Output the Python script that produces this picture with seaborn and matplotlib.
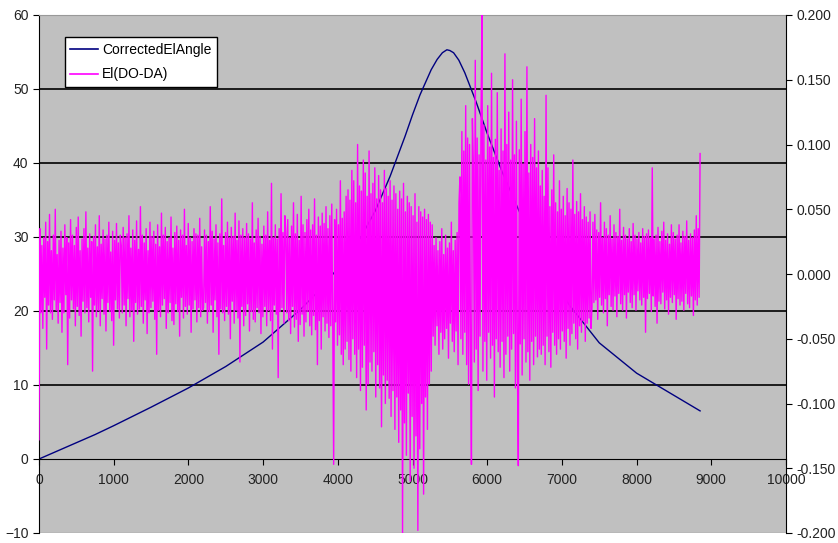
import numpy as np
import pandas as pd
import seaborn as sns
import matplotlib.pyplot as plt
from matplotlib.ticker import FormatStrFormatter

# corrected elevation angle (left axis)
elev_x = [0, 250, 500, 750, 1000, 1500, 2000, 2500, 3000, 3500, 3800, 4000, 4300,
          4500, 4700, 4900, 5000, 5100, 5250, 5330, 5400, 5460, 5500, 5550, 5620,
          5700, 5850, 6000, 6200, 6500, 6800, 7100, 7500, 8000, 8500, 8850]
elev_y = [0, 1.1, 2.2, 3.3, 4.5, 7.0, 9.6, 12.5, 15.8, 20.2, 23.3, 25.8, 29.8,
          33.5, 38.2, 43.6, 46.5, 49.2, 52.6, 54.0, 54.9, 55.3, 55.2, 54.9, 53.9,
          52.2, 48.3, 44.0, 38.8, 31.8, 26.0, 20.8, 15.7, 11.6, 8.6, 6.5]

# El(DO-DA) in thousandths (right axis) in stretches
noise_a = [-128, 35, -30, 22, -42, 28, -18, 40, -58, 25,
           -24, 46, -30, 18, -35, 30, -20, 50, -28, 15,
           -38, 26, -22, 33, -45, 20, -30, 38, -16, 28,
           -70, 24, -34, 42, -20, 30, -27, 22, -40, 36,
           -25, 44, -32, 18, -48, 27, -21, 35, -30, 48,
           -26, 20, -37, 31, -18, 25, -75, 29, -24, 38,
           -33, 21, -28, 45, -40, 23, -19, 34, -31, 27,
           -44, 30, -22, 40, -29, 17, -36, 33, -55, 26,
           -20, 39, -27, 24, -34, 30]
noise_b = [22, -30, 36, -24, 28, -40, 31, -19, 45, -33,
           20, -28, 34, -52, 26, -22, 41, -31, 19, -27,
           52, -25, 30, -38, 24, -20, 35, -46, 18, -30,
           40, -26, 29, -21, 33, -35, 23, -62, 38, -28,
           21, -33, 47, -24, 30, -19, 36, -42, 25, -30,
           28, -22, 44, -36, 20, -39, 32, -23, 37, -29,
           26, -48, 34, -18, 30, -34, 50, -25, 22, -31,
           39, -24, 28, -45, 25, -27, 35, -20, 31, -37,
           30, -26, 43, -33, 21, -28]
noise_c = [-26, 34, -22, 30, -38, 25, -29, 52, -24, 33,
           -45, 27, -20, 38, -33, 24, -62, 31, -27, 58,
           -30, 22, -36, 32, -25, 40, -31, 28, -50, 36,
           -21, 29, -38, 47, -28, 26, -34, 41, -68, 30,
           -25, 35, -40, 28, -32, 39, -23, 31, -44, 27,
           -29, 55, -35, 24, -37, 34, -26, 43, -30, 29,
           -46, 23, -33, 37, -25, 30, -40, 48, -28, 26,
           -36, 70, -58, 28, -24, 38, -31, 27, -80, 35,
           -29, 62, -26, 32, -38, 45]
noise_d = [33, -30, 42, -36, 28, -46, 37, -25, 55, -41,
           31, -35, 46, -52, 26, -39, 60, -31, 38, -48,
           32, -37, 42, -29, 50, -40, 34, -47, 38, -32,
           58, -43, 30, -70, 44, -36, 37, -58, 47, -33,
           39, -44, 52, -38, 35, -49, 45, -40, 54, -35,
           -147, 42, -37, 50, -55, 38, -47, 72, -62, 43,
           -70, 48, -58, 60, -52, 65, -66, 57, -75, 80]
noise_e = [-50, 72, -62, 55, -80, 100, -58, 68, -90, 64,
           -72, 88, -55, 78, -105, 60, -85, 95, -68, 62,
           -75, 70, -60, 82, -95, 58, -70, 76, -88, 65,
           -118, 55, -78, 80, -100, 66, -82, 60, -96, 72,
           -110, 57, -90, 68, -120, 62, -95, 50, -130, 64,
           -105, 58, -200, 70, -115, 48, -140, 60, -92, 55,
           -160, 52, -110, 45, -150, 62, -125, 40, -198, 52,
           -135, 48, -100, 44, -170, 50, -95, 42, -120, 46,
           -85, 40, -75, 38]
noise_f = [-48, 22, -55, 28, -40, 18, -62, 25, -45, 35,
           -58, 15, -50, 30, -42, 20, -65, 24, -38, 40,
           -52, 18, -60, 26, -44, 32, -70, 55]
noise_g = [75, -50, 110, -62, 95, -45, 130, -70, 105, -85,
           100, -55, -147, 120, 85, -68, 165, -58, 105, -90,
           92, -48, 120, 200, -75, 115, -52, 88, -82, 130,
           -45, 98, -65, 155, -55, 90, -95, 104, -50, 140,
           -60, 80, -72, 112, -52, 95, -80, 170, -62, 100,
           -48, 125, -75, 88, -58, 150, -46, 92, -88, 118,
           -66, -148, 96, -54, 135, -78, 85, -50, 110, -68,
           160, -60, 78, -82, 100, -52, 90, -70, 120, -48,
           82, -64, 95, -58]
noise_h = [68, -62, 80, -55, 60, -70, 138, -48, 82, -60,
           52, -72, 65, -45, 92, -55, 55, -62, 48, -50,
           72, -58, 50, -44, 60, -52, 45, -65, 66, -42,
           55, -55, 50, -46, 88, -38, 46, -50, 56, -58,
           48, -40, 62, -45, 42, -36, 52, -52, 44, -38,
           40, -34, 48, -42]
noise_i = [-25, 40, -22, 46, -20, 34, -35, 32, -18, 55,
           -24, 28, -30, 40, -19, 35, -40, 30, -16, 45,
           -25, 27, -28, 38, -17, 32, -33, 29, -15, 50,
           -23, 26, -28, 36, -16, 30, -34, 27, -14, 35,
           -22, 25, -26, 39, -16, 30, -28, 27, -13, 32,
           -20, 24, -24, 35, -18, 29, -45, 31, -19, 34,
           -15, 28, -29, 82, -17, 27, -25, 30, -38, 36,
           -21, 25, -23, 33, -14, 40, -27, 26, -20, 31,
           -31, 23, -18, 38, -22, 32, -16, 27, -35, 30,
           -19, 38, -24, 24, -21, 33, -28, 29, -15, 41,
           -23, 26, -26, 31, -17, 28, -32, 34, -20, 45,
           -24, 35, -18, 93]

right_ticks = [-0.2, -0.15, -0.1, -0.05, 0.0, 0.05, 0.1, 0.15, 0.2]

noise = noise_a + noise_b + noise_c + noise_d + noise_e + noise_f + noise_g + noise_h + noise_i
noise_df = pd.DataFrame({'x': np.linspace(0, 8850, len(noise)),
                         'y': np.array(noise) / 1000.0})
elev_df = pd.DataFrame({'x': elev_x, 'y': elev_y})

plt.rcParams['font.family'] = ['Liberation Sans', 'DejaVu Sans']
plt.rcParams['font.size'] = 10

fig = plt.figure(figsize=(8.38, 5.43), dpi=100)
ax = fig.add_axes([39 / 838, 10 / 543, 747 / 838, 518 / 543])
ax.set_facecolor('#C0C0C0')

sns.lineplot(x='x', y='y', data=elev_df, ax=ax, color='#000080', linewidth=1.0,
             sort=False, legend=False)
ax.set_xlim(0, 10000)
ax.set_ylim(-10, 60)
ax.set_xticks(range(0, 10001, 1000))
ax.set_yticks(range(-10, 61, 10))
for v in [10, 20, 30, 40, 50]:
    ax.axhline(v, color='black', linewidth=1.2, zorder=1)
ax.spines['bottom'].set_position(('data', 0))
ax.spines['bottom'].set_color('black')
ax.spines['top'].set_color('#999999')
ax.spines['right'].set_visible(False)
ax.tick_params(axis='both', direction='out', length=4, color='black', labelcolor='#222222')
ax.tick_params(axis='x', pad=6)
ax.set_xlabel('')
ax.set_ylabel('')

ax2 = ax.twinx()
sns.lineplot(x='x', y='y', data=noise_df, ax=ax2, color='#FF00FF', linewidth=1.0,
             sort=False, legend=False)
ax2.set_ylim(-0.2, 0.2)
ax2.set_yticks(right_ticks)
ax2.yaxis.set_major_formatter(FormatStrFormatter('%.3f'))
ax2.tick_params(axis='y', direction='out', length=4, color='black', labelcolor='#222222')
ax2.spines['top'].set_visible(False)
ax2.spines['left'].set_visible(False)
ax2.spines['bottom'].set_visible(False)
ax2.spines['right'].set_color('black')
ax2.set_ylabel('')

# bottom edge of the plot area at -10
ax.axhline(-10, color='#999999', linewidth=1.0)

handles = [plt.Line2D([], [], color='#000080', linewidth=1.2),
           plt.Line2D([], [], color='#FF00FF', linewidth=1.2)]
leg = ax2.legend(handles, ['CorrectedElAngle', 'El(DO-DA)'], loc='upper left',
                 bbox_to_anchor=(0.025, 0.97), fancybox=False, framealpha=1,
                 edgecolor='black', fontsize=10, handlelength=2.0, handletextpad=0.3,
                 borderpad=0.4, labelspacing=0.75)
leg.get_frame().set_linewidth(1.0)

fig.savefig('out.png', dpi=100)
